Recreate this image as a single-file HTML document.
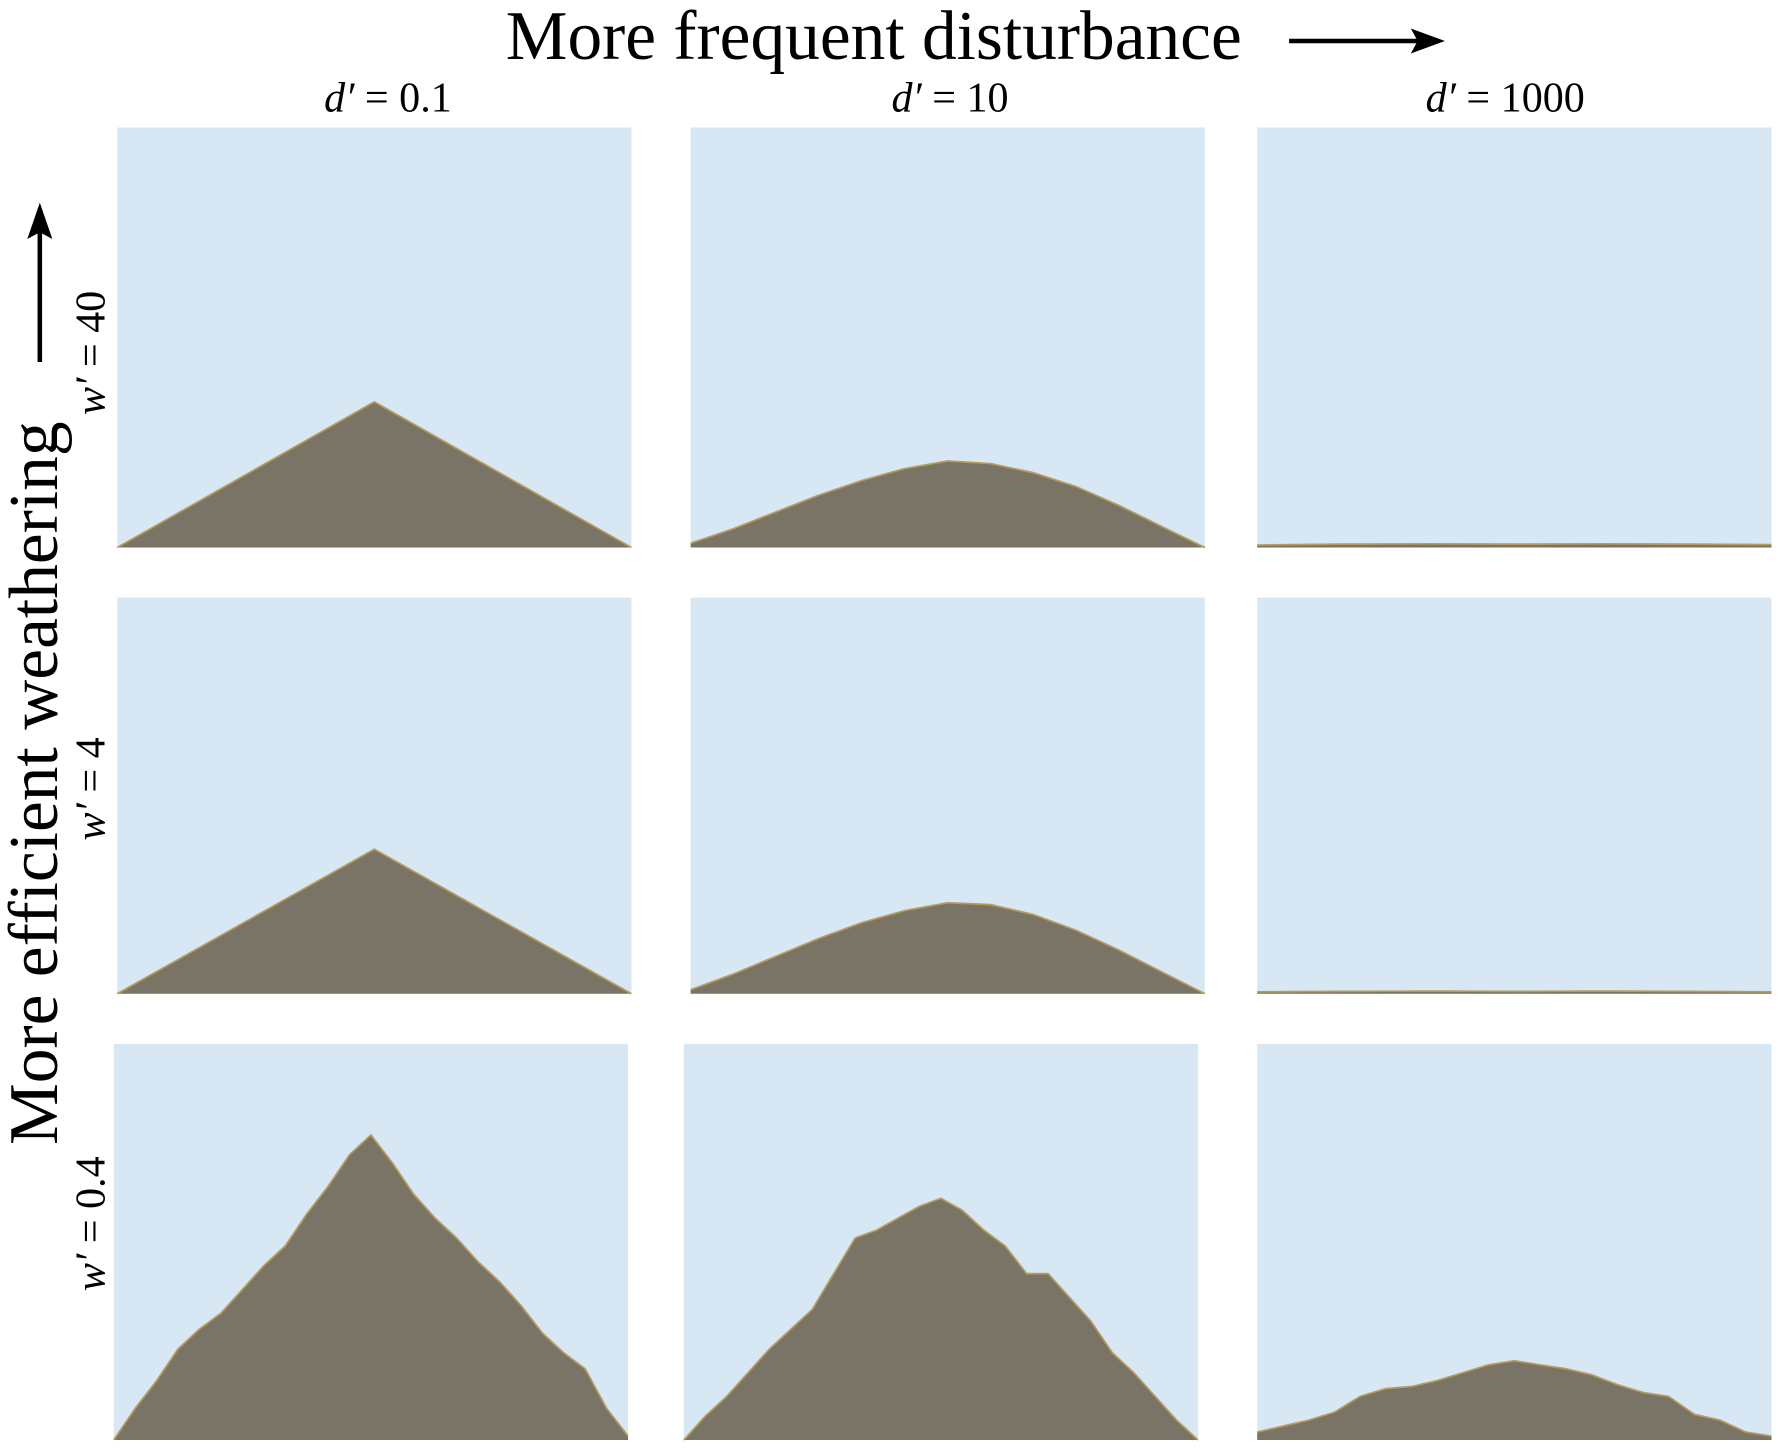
<!DOCTYPE html>
<html><head><meta charset="utf-8"><style>
html,body{margin:0;padding:0;background:#fff;}
svg{display:block;}
text{font-family:"Liberation Serif","DejaVu Serif",serif;fill:#000;}
</style></head><body>
<svg id="fig" width="1784" height="1448" viewBox="0 0 1568 1272" preserveAspectRatio="none" xmlns="http://www.w3.org/2000/svg" font-family="Liberation Serif, DejaVu Serif, serif">
<text x="768" y="52" font-size="61" font-family="Liberation Serif, serif" text-anchor="middle">More frequent disturbance</text>
<g>
<line x1="1133" y1="36" x2="1248" y2="36" stroke="#000" stroke-width="4"/>
<polygon points="1270,36 1240,25 1246,36 1240,47" fill="#000"/>
</g>
<text transform="translate(50,688) rotate(-90)" font-size="61" font-family="Liberation Serif, serif" text-anchor="middle">More efficient weathering</text>
<g>
<line x1="35" y1="318" x2="35" y2="200" stroke="#000" stroke-width="4"/>
<polygon points="35,178 24,210 35,204 46,210" fill="#000"/>
</g>
<text x="341" y="98" font-size="37" font-family="Liberation Serif, serif" text-anchor="middle"><tspan font-style="italic">d′</tspan> = 0.1</text>
<text x="835" y="98" font-size="37" font-family="Liberation Serif, serif" text-anchor="middle"><tspan font-style="italic">d′</tspan> = 10</text>
<text x="1323" y="98" font-size="37" font-family="Liberation Serif, serif" text-anchor="middle"><tspan font-style="italic">d′</tspan> = 1000</text>
<text transform="translate(92,310) rotate(-90)" font-size="37" font-family="Liberation Serif, serif" text-anchor="middle"><tspan font-style="italic">w′</tspan> = 40</text>
<text transform="translate(92,693) rotate(-90)" font-size="37" font-family="Liberation Serif, serif" text-anchor="middle"><tspan font-style="italic">w′</tspan> = 4</text>
<text transform="translate(92,1075) rotate(-90)" font-size="37" font-family="Liberation Serif, serif" text-anchor="middle"><tspan font-style="italic">w′</tspan> = 0.4</text>
<g id="panels"></g>
</svg>
<script>
// Surface height profiles (fraction of panel height), evenly spaced across panel width
const profileW40D01 = [0, 0.347, 0];
const profileW40D10 = [0.01,0.045,0.085,0.125,0.16,0.188,0.206,0.2,0.178,0.145,0.1,0.05,0.0];
const profileW40D1000 = [0.006,0.008,0.009,0.008,0.009,0.008,0.007];
const profileW4D01 = [0, 0.365, 0];
const profileW4D10 = [0.01,0.05,0.095,0.14,0.18,0.21,0.23,0.225,0.2,0.16,0.11,0.055,0.0];
const profileW4D1000 = [0.005,0.006,0.007,0.006,0.007,0.006,0.005];
const profileW04D01 = [0,0.08,0.15,0.23,0.28,0.32,0.38,0.44,0.49,0.57,0.64,0.72,0.77,0.70,0.62,0.56,0.51,0.45,0.40,0.34,0.27,0.22,0.18,0.08,0.01];
const profileW04D10 = [0,0.06,0.11,0.17,0.23,0.28,0.33,0.42,0.51,0.53,0.56,0.59,0.61,0.58,0.53,0.49,0.42,0.42,0.36,0.30,0.22,0.17,0.11,0.05,0];
const profileW04D1000 = [0.02,0.035,0.05,0.07,0.11,0.13,0.135,0.15,0.17,0.19,0.2,0.19,0.18,0.165,0.14,0.12,0.11,0.065,0.05,0.02,0.01];

const panelDefs = [
  {name:'panel-w40-d0.1', x:103, y:112, w:452, h:369, data:profileW40D01},
  {name:'panel-w40-d10', x:607, y:112, w:452, h:369, data:profileW40D10},
  {name:'panel-w40-d1000', x:1105, y:112, w:452, h:369, data:profileW40D1000},
  {name:'panel-w4-d0.1', x:103, y:525, w:452, h:348, data:profileW4D01},
  {name:'panel-w4-d10', x:607, y:525, w:452, h:348, data:profileW4D10},
  {name:'panel-w4-d1000', x:1105, y:525, w:452, h:348, data:profileW4D1000},
  {name:'panel-w0.4-d0.1', x:100, y:917, w:452, h:348, data:profileW04D01},
  {name:'panel-w0.4-d10', x:601, y:917, w:452, h:348, data:profileW04D10},
  {name:'panel-w0.4-d1000', x:1105, y:917, w:452, h:348, data:profileW04D1000}
];
const NS = 'http://www.w3.org/2000/svg';
const root = document.getElementById('panels');
panelDefs.forEach(p => {
  const g = document.createElementNS(NS,'g');
  
  
  const bg = document.createElementNS(NS,'rect');
  bg.setAttribute('x',p.x); bg.setAttribute('y',p.y);
  bg.setAttribute('width',p.w); bg.setAttribute('height',p.h);
  bg.setAttribute('fill','#d7e7f3');
  
  
  g.appendChild(bg);
  const n = p.data.length;
  const xs = i => p.x + p.w * i / (n - 1);
  const ys = v => p.y + p.h - v * p.h;
  let d = 'M' + p.x + ',' + (p.y + p.h);
  let top = '';
  p.data.forEach((v,i) => {
    d += ' L' + xs(i).toFixed(1) + ',' + ys(v).toFixed(1);
    top += (i ? ' L' : 'M') + xs(i).toFixed(1) + ',' + ys(v).toFixed(1);
  });
  d += ' L' + (p.x + p.w) + ',' + (p.y + p.h) + ' Z';
  const ground = document.createElementNS(NS,'path');
  ground.setAttribute('d', d);
  ground.setAttribute('fill', '#7a7467');
  
  
  g.appendChild(ground);
  const edge = document.createElementNS(NS,'path');
  edge.setAttribute('d', top);
  edge.setAttribute('fill', 'none');
  edge.setAttribute('stroke', '#b99a5a');
  edge.setAttribute('stroke-width', '1.5');
  
  
  g.appendChild(edge);
  root.appendChild(g);
});
</script>
</body></html>
